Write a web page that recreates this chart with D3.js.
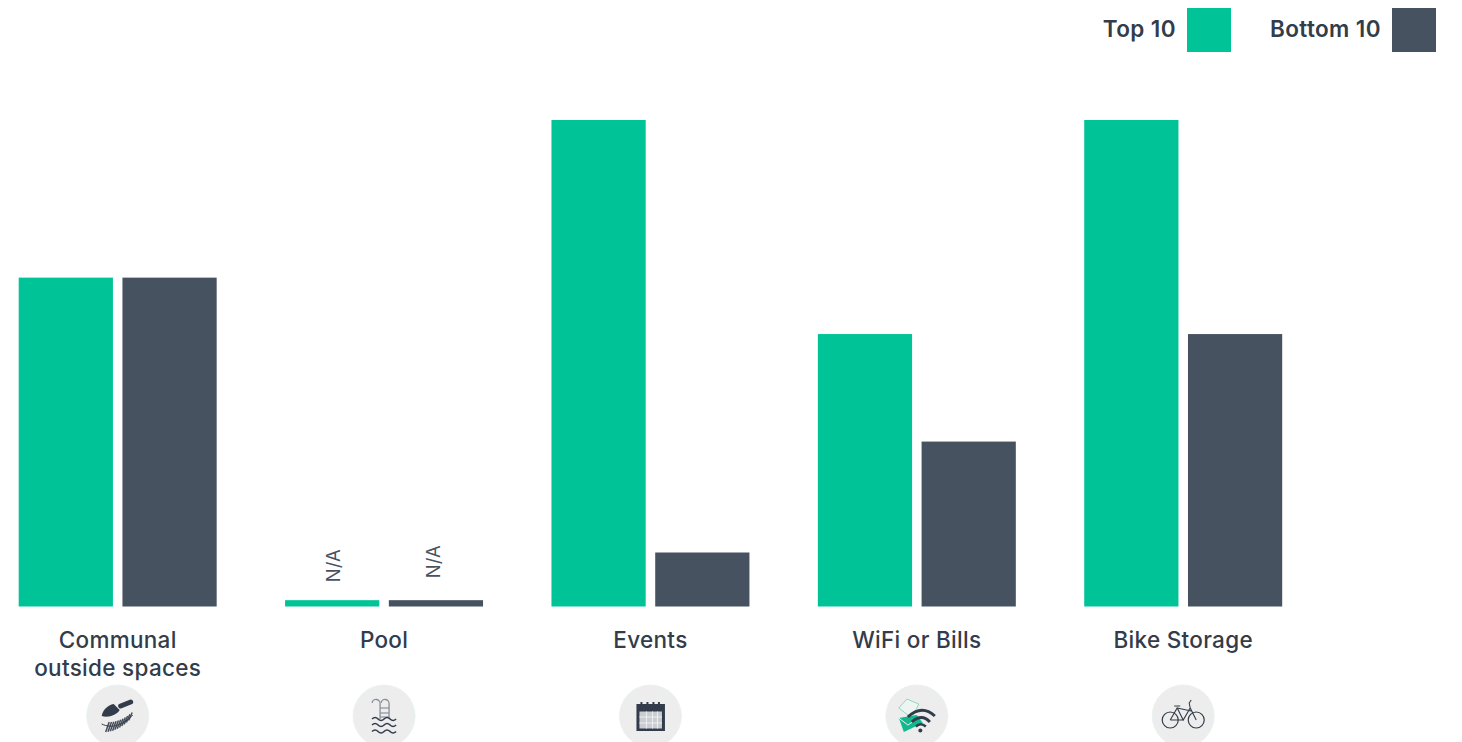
<!DOCTYPE html>
<html>
<head>
<meta charset="utf-8">
<script src="https://cdn.jsdelivr.net/npm/d3@7"></script>
<style>
html, body { margin: 0; padding: 0; background: #fff; overflow: hidden; }
svg { display: block; }
text { font-family: Inter, Lato, sans-serif; }
</style>
</head>
<body>
<div id="chart"></div>
<script>
const categories = ["Communal outside spaces", "Pool", "Events", "WiFi or Bills", "Bike Storage"];
const seriesNames = ["Top 10", "Bottom 10"];
const seriesColors = ["#00c397", "#475261"];
const top10 = [67.6, 1.3, 100, 56, 100];
const bottom10 = [67.6, 1.3, 11.1, 33.9, 56];
const unavailable = ["Pool"];

const W = 1462, H = 742;
const svg = d3.select("#chart").append("svg").attr("width", W).attr("height", H);

const baseline = 606.5;
const y = d3.scaleLinear().domain([0, 100]).range([baseline, 120]);
const x0 = d3.scaleBand().domain(categories).range([18.7, 1282.2]).paddingInner(0.2568);
const x1 = d3.scaleBand().domain(seriesNames).range([0, x0.bandwidth()]).paddingInner(0.0918);
const seriesValues = { "Top 10": top10, "Bottom 10": bottom10 };

// Grouped bars
const groups = svg.selectAll("g.group").data(categories).join("g")
  .attr("class", "group")
  .attr("transform", d => `translate(${x0(d)},0)`);

seriesNames.forEach((name, s) => {
  groups.append("rect")
    .attr("x", x1(name))
    .attr("width", x1.bandwidth())
    .attr("y", (d, i) => y(seriesValues[name][i]))
    .attr("height", (d, i) => baseline - y(seriesValues[name][i]))
    .attr("fill", seriesColors[s]);
});

// Rotated notes above the placeholder stubs
const noteOffset = { "Top 10": { dx: 1, lift: 18 }, "Bottom 10": { dx: -2, lift: 22 } };
unavailable.forEach(cat => {
  const i = categories.indexOf(cat);
  seriesNames.forEach(name => {
    const off = noteOffset[name];
    const cx = x0(cat) + x1(name) + x1.bandwidth() / 2 + off.dx;
    const cy = y(seriesValues[name][i]) - off.lift;
    svg.append("text")
      .attr("transform", `translate(${cx + 6.5},${cy}) rotate(-90)`)
      .attr("font-size", 18.5)
      .attr("fill", "#475261")
      .text("N/A");
  });
});

// Category labels, wrapped on two lines where needed
const labelLines = { "Communal outside spaces": ["Communal", "outside spaces"] };
const labelColor = "#333c4a";
categories.forEach(cat => {
  const cx = x0(cat) + x0.bandwidth() / 2;
  const lines = labelLines[cat] || [cat];
  lines.forEach((line, k) => {
    svg.append("text")
      .attr("x", cx).attr("y", 647.5 + k * 28)
      .attr("text-anchor", "middle")
      .attr("font-size", 22.5)
      .attr("font-weight", 500)
      .attr("letter-spacing", 0.3)
      .attr("fill", labelColor)
      .text(line);
  });
});

// Legend
const legend = [
  { name: seriesNames[0], color: seriesColors[0], textRight: 1176, swatch: 1187 },
  { name: seriesNames[1], color: seriesColors[1], textRight: 1381, swatch: 1392 }
];
legend.forEach(l => {
  svg.append("text").attr("x", l.textRight).attr("y", 37)
    .attr("text-anchor", "end")
    .attr("font-size", 22.5).attr("font-weight", 600).attr("letter-spacing", 0.4).attr("fill", labelColor)
    .text(l.name);
  svg.append("rect").attr("x", l.swatch).attr("y", 8).attr("width", 44).attr("height", 44).attr("fill", l.color);
});

// Icon badges below each category
const ink = "#333c4a", mint = "#12b98f";
const icons = {
  "Communal outside spaces": g => {
    g.append("path").attr("d", "M-16,0 C-15,-6 -10,-11 -4,-12 L2,-6 C-1,-1 -9,2 -16,0 Z").attr("fill", ink);
    g.append("path").attr("d", "M3,-10 L13,-14").attr("stroke", ink).attr("stroke-width", 5).attr("stroke-linecap", "round");
    g.append("path").attr("d", "M-16,8 C-6,13 6,9 15,-1").attr("stroke", ink).attr("stroke-width", 1).attr("fill", "none");
    // Fern leaflets fan out along the curved stem
    d3.range(11).forEach(k => {
      const t = k / 10;
      const px = -11 + t * 23, py = 10.5 + t * 0.5 - t * t * 10;
      g.append("path").attr("d", `M${px + 2.5},${py - 4.5} L${px - 1},${py + 5.5 - t * 2}`)
        .attr("stroke", ink).attr("stroke-width", 1.5).attr("stroke-opacity", 0.9);
    });
  },
  "Pool": g => {
    ["M-4,3 L-4,-12 A3.5,3.5 0 0 0 -12,-13", "M5,3 L5,-12 A3.5,3.5 0 0 0 -3,-13"].forEach(d =>
      g.append("path").attr("d", d).attr("fill", "none").attr("stroke", "#8a9099").attr("stroke-width", 1.3));
    [-8, -3, 1].forEach(t => g.append("path").attr("d", `M-4,${t} H5`).attr("stroke", "#8a9099").attr("stroke-width", 1.2));
    [3, 9, 15.5].forEach(t => g.append("path")
      .attr("d", `M-12,${t} q3,-3 6,0 t6,0 t6,0 t6,0`).attr("fill", "none").attr("stroke", ink).attr("stroke-width", 1.6));
  },
  "Events": g => {
    g.append("rect").attr("x", -14).attr("y", -12).attr("width", 28.5).attr("height", 27).attr("fill", ink);
    g.append("rect").attr("x", -11).attr("y", -4.5).attr("width", 22.5).attr("height", 17).attr("fill", "#c9ccd0");
    [-9, -3, 3, 8.5].forEach(t => g.append("rect").attr("x", t - 1).attr("y", -14).attr("width", 2).attr("height", 4.5).attr("fill", ink));
    [1, 7].forEach(t => g.append("path").attr("d", `M-11,${t} H11.5`).attr("stroke", "#eef0f1").attr("stroke-width", 1));
    [-4, 2, 7].forEach(t => g.append("path").attr("d", `M${t},-4.5 V12.5`).attr("stroke", "#eef0f1").attr("stroke-width", 1));
  },
  "WiFi or Bills": g => {
    g.append("path").attr("d", "M-18,-8 L-10,-17 L2,-12 L-5,2 Z").attr("fill", "#eef4f2").attr("stroke", "#8fd8c2").attr("stroke-width", 1);
    g.append("path").attr("d", "M-18,2 L0,-1 L6,7 L-13,16 Z").attr("fill", mint);
    g.append("path").attr("d", "M-18,2 L-9,9 L2,2").attr("fill", "none").attr("stroke", "#eef0f1").attr("stroke-width", 1);
    g.append("path").attr("d", "M-9,1 Q5,-12 18,0").attr("fill", "none").attr("stroke", ink).attr("stroke-width", 3);
    g.append("path").attr("d", "M-5,6 Q5,-3 13,6").attr("fill", "none").attr("stroke", ink).attr("stroke-width", 3);
    g.append("path").attr("d", "M-1,10.5 Q4,6 9,10.5").attr("fill", "none").attr("stroke", ink).attr("stroke-width", 2.6);
    g.append("circle").attr("cx", 3.5).attr("cy", 14.5).attr("r", 2).attr("fill", ink);
  },
  "Bike Storage": g => {
    [[-13, 4], [13, 4]].forEach(([cx, cy]) => g.append("circle").attr("cx", cx).attr("cy", cy).attr("r", 8)
      .attr("fill", "none").attr("stroke", ink).attr("stroke-width", 1.2));
    g.append("path").attr("d", "M-13,4 L-6,-8 L0,4 L7,-8 L13,4 M-6,-8 L8,-5 M0,4 L-13,4 M7,-8 L6,-13 L8,-16 M-9,-10 H-3")
      .attr("fill", "none").attr("stroke", ink).attr("stroke-width", 1.1);
  }
};
categories.forEach(cat => {
  const g = svg.append("g").attr("transform", `translate(${x0(cat) + x0.bandwidth() / 2},716)`);
  g.append("circle").attr("r", 31).attr("fill", "#ededed").attr("stroke", "#e6f3ef").attr("stroke-width", 0.8);
  icons[cat](g);
});
</script>
</body>
</html>
